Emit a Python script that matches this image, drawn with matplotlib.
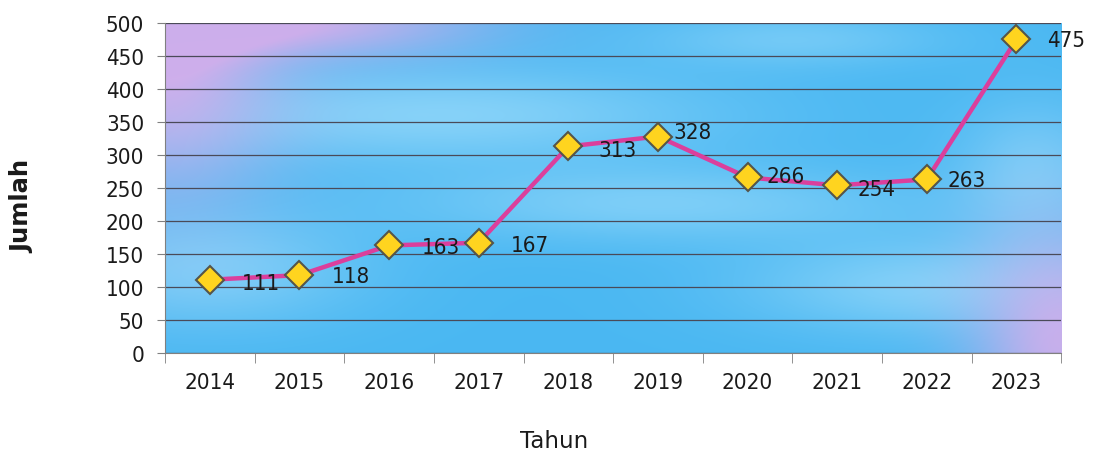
import matplotlib
matplotlib.use('Agg')
import matplotlib.pyplot as plt
from matplotlib import font_manager
import numpy as np

years = ['2014', '2015', '2016', '2017', '2018',
         '2019', '2020', '2021', '2022', '2023']
jumlah = [111, 118, 163, 167, 313, 328, 266, 254, 263, 475]
y_ticks = [0, 50, 100, 150, 200, 250, 300, 350, 400, 450, 500]

text_color = '#1a1a1a'
plt.rcParams['font.family'] = 'DejaVu Sans'

# narrower digits look closer to the Tahoma-ish office font
cond = font_manager.FontProperties(family='DejaVu Sans', stretch='condensed')
has_cond = 'Condensed' in font_manager.findfont(cond)
num_font = dict(fontstretch='condensed', fontsize=16) if has_cond \
    else dict(fontsize=14.5)


def background(nx=400, ny=200):
    # blue fill with lighter streaks and lavender corners
    xx, yy = np.meshgrid(np.linspace(0, 1, nx), np.linspace(1, 0, ny))
    base = np.array([0.29, 0.72, 0.95])
    pink = np.array([0.86, 0.68, 0.92])
    light = np.array([0.68, 0.89, 0.99])

    def blob(cx, cy, sx, sy):
        return np.exp(-((xx - cx) ** 2 / (2 * sx ** 2)
                        + (yy - cy) ** 2 / (2 * sy ** 2)))

    w_pink = np.clip(0.9 * blob(0.0, 0.9, 0.09, 0.3)
                     + 0.75 * blob(0.18, 1.0, 0.13, 0.08)
                     + 0.85 * blob(1.0, 0.03, 0.07, 0.25), 0, 0.9)
    w_light = np.clip(0.6 * blob(0.3, 0.72, 0.22, 0.1)
                      + 0.5 * blob(0.55, 0.45, 0.2, 0.08)
                      + 0.55 * blob(0.85, 0.2, 0.14, 0.1)
                      + 0.5 * blob(0.05, 0.25, 0.12, 0.12)
                      + 0.45 * blob(0.97, 0.55, 0.06, 0.15)
                      + 0.4 * blob(0.7, 0.95, 0.12, 0.06), 0, 1)
    img = base[None, None, :] * np.ones((ny, nx, 1))
    img = img * (1 - w_light[..., None]) + light * w_light[..., None]
    img = img * (1 - w_pink[..., None]) + pink * w_pink[..., None]
    return img


fig = plt.figure(figsize=(10.93, 4.56), dpi=100)
ax = fig.add_axes([0.151, 0.2237, 0.820, 0.7237])

ax.imshow(background(), extent=[0, 1, 0, 1], transform=ax.transAxes,
          aspect='auto', zorder=0, interpolation='bicubic')

x = np.arange(len(years))
ax.plot(x, jumlah, color='#DB3F9C', lw=3.2, marker='D', markersize=14.5,
        markerfacecolor='#FFD41F', markeredgecolor='#55554a',
        markeredgewidth=1.5, zorder=3)

# label offsets in pixels (right, down) as placed in the original
label_dx = [32, 32, 33, 32, 30, 15, 19, 20, 21, 31]
label_dy = [3, 1, 2, 2, 4, -5, -1, 4, 1, 1]
for xi, v, dx, dy in zip(x, jumlah, label_dx, label_dy):
    ax.annotate(str(v), (xi, v), xytext=(dx, -dy),
                textcoords='offset pixels', ha='left', va='center',
                color=text_color, zorder=4, **num_font)

ax.set_xlim(-0.5, len(years) - 0.5)
ax.set_ylim(0, 500)
ax.set_yticks(y_ticks)
ax.set_xticks(x)
ax.set_xticklabels(years)
ax.set_xticks(np.arange(len(years) + 1) - 0.5, minor=True)
ax.tick_params(axis='x', which='major', length=0, pad=14,
               labelcolor=text_color)
ax.tick_params(axis='x', which='minor', length=7, color='#808080')
ax.tick_params(axis='y', length=6, color='#808080', pad=9,
               labelcolor=text_color)
for lab in ax.get_xticklabels() + ax.get_yticklabels():
    lab.set_fontsize(num_font['fontsize'])
    if has_cond:
        lab.set_fontstretch('condensed')

ax.yaxis.grid(True, color='#4a4a58', lw=0.9)
ax.set_axisbelow(True)
for side in ['top', 'right']:
    ax.spines[side].set_visible(False)
for side in ['left', 'bottom']:
    ax.spines[side].set_color('#808080')

fig.text(22 / 1093, 1 - 206 / 456, 'Jumlah', rotation=90, ha='center',
         va='center', fontsize=17.5, fontweight='bold', color=text_color)
fig.text(554 / 1093, 1 - 442 / 456, 'Tahun', ha='center', va='center',
         fontsize=16.5, color=text_color)

fig.savefig('out.png', dpi=100)
